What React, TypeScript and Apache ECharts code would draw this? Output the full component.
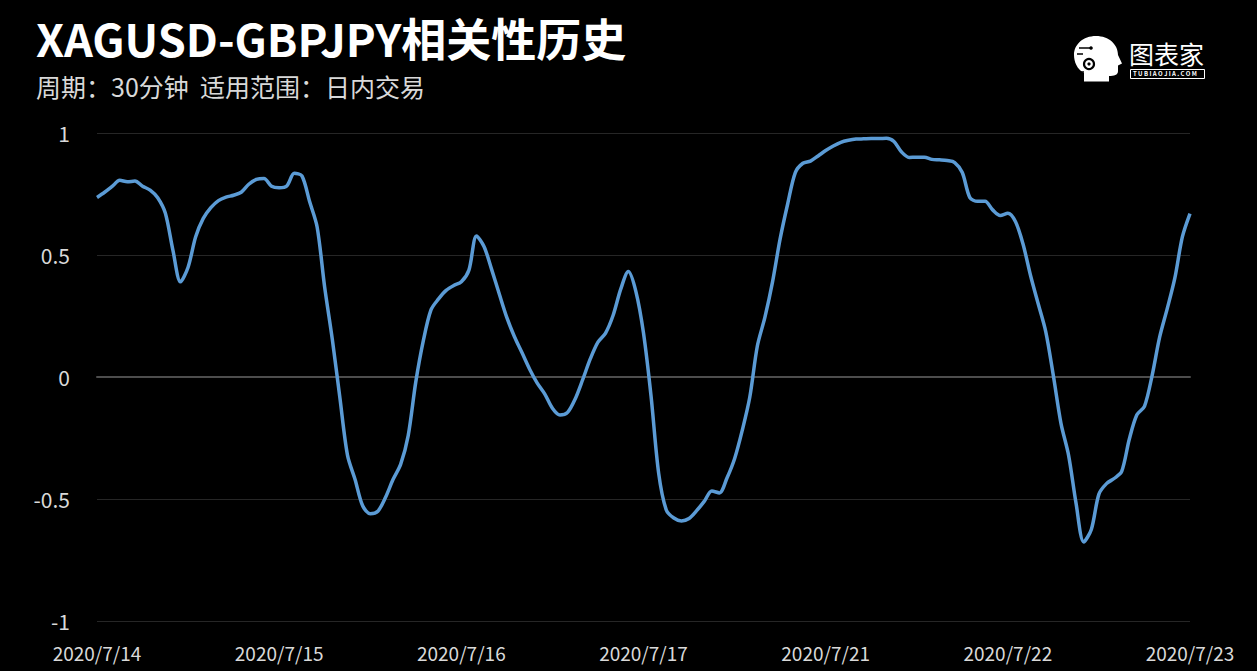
import React, { useEffect, useRef } from "react";
import * as echarts from "echarts";

const days = ["2020/7/14", "2020/7/15", "2020/7/16", "2020/7/17", "2020/7/21", "2020/7/22", "2020/7/23"];
const hours = Array.from({ length: 24 }, (_, h) => `${h}:00`);

const correlation = [
  0.736, 0.757, 0.781, 0.806, 0.8, 0.803, 0.782, 0.766, 0.735, 0.672, 0.52, 0.39,
  0.45, 0.575, 0.65, 0.694, 0.723, 0.737, 0.745, 0.757, 0.79, 0.81, 0.814, 0.782,
  0.776, 0.783, 0.835, 0.824, 0.72, 0.615, 0.367, 0.155, -0.085, -0.32, -0.42, -0.528,
  -0.56, -0.55, -0.494, -0.42, -0.358, -0.24, -0.02, 0.15, 0.275, 0.32, 0.355, 0.375,
  0.39, 0.438, 0.578, 0.534, 0.44, 0.34, 0.243, 0.165, 0.099, 0.032, -0.025, -0.07,
  -0.128, -0.156, -0.145, -0.09, -0.01, 0.075, 0.143, 0.18, 0.253, 0.36, 0.432, 0.35,
  0.18, -0.08, -0.395, -0.545, -0.578, -0.59, -0.58, -0.548, -0.51, -0.467, -0.475, -0.414,
  -0.335, -0.22, -0.083, 0.127, 0.245, 0.39, 0.566, 0.71, 0.838, 0.876, 0.885, 0.906,
  0.928, 0.947, 0.962, 0.97, 0.975, 0.976, 0.977, 0.977, 0.978, 0.965, 0.922, 0.9,
  0.901, 0.901, 0.892, 0.89, 0.887, 0.879, 0.838, 0.735, 0.72, 0.72, 0.685, 0.662,
  0.671, 0.637, 0.545, 0.415, 0.3, 0.185, 0.005, -0.19, -0.32, -0.52, -0.676, -0.625,
  -0.48, -0.437, -0.416, -0.387, -0.255, -0.155, -0.12, 0.005, 0.163, 0.28, 0.405, 0.575,
  0.67,
];

const titleText = "XAGUSD-GBPJPY相关性历史";
const subtitleText = "周期：30分钟  适用范围：日内交易";
const logoText = "图表家";
const logoSub = "T U B I A O J I A . C O M";

const headPath =
  "M22 0C35 0 44 9 44 20L48 29L44 31L44 37C44 41 40 42 35 42L35 48L10 48L10 39C3 35 0 27 0 20C0 9 9 0 22 0Z";
echarts.graphic.registerShape("logoHead", echarts.graphic.extendPath(headPath, {}) as any);

const FONT = "'Noto Sans CJK SC', 'Noto Sans', sans-serif";

export default function App() {
  const ref = useRef<HTMLDivElement>(null);
  useEffect(() => {
    if (!ref.current) return;
    const chart = echarts.init(ref.current, undefined, { renderer: "svg" });
    const categories: string[] = [];
    for (let d = 0; d < days.length - 1; d++) {
      for (const h of hours) categories.push(`${days[d]} ${h}`);
    }
    categories.push(`${days[days.length - 1]} ${hours[0]}`);

    chart.setOption({
      animation: false,
      backgroundColor: "#000000",
      textStyle: { fontFamily: FONT },
      grid: { left: 97, right: 67, top: 133, bottom: 50, containLabel: false },
      graphic: [
        {
          type: "text",
          left: 36,
          top: 15,
          style: { text: titleText, fill: "#ffffff", font: `bold 45px ${FONT}` },
        },
        {
          type: "text",
          left: 36,
          top: 73,
          style: { text: subtitleText, fill: "#d9d9d9", font: `25px ${FONT}` },
        },
        {
          type: "group",
          left: 1074,
          top: 36,
          children: [
            { type: "logoHead", x: 0, y: 0, scaleX: 1, scaleY: 0.95, style: { fill: "#ffffff" } },
            { type: "circle", shape: { cx: 15, cy: 28, r: 5 }, style: { fill: "none", stroke: "#000", lineWidth: 2.2 } },
            { type: "circle", shape: { cx: 15, cy: 28, r: 1.6 }, style: { fill: "#000" } },
            { type: "line", shape: { x1: 5, y1: 12, x2: 16, y2: 12 }, style: { stroke: "#000", lineWidth: 1.5 } },
            { type: "line", shape: { x1: 3, y1: 18, x2: 9, y2: 18 }, style: { stroke: "#000", lineWidth: 1.5 } },
            { type: "line", shape: { x1: 5, y1: 36, x2: 10, y2: 36 }, style: { stroke: "#000", lineWidth: 1.5 } },
            { type: "circle", shape: { cx: 17, cy: 12, r: 1.8 }, style: { fill: "#000" } },
          ],
        },
        {
          type: "text",
          left: 1129,
          top: 40,
          style: { text: logoText, fill: "#ffffff", font: `25px ${FONT}` },
        },
        {
          type: "rect",
          left: 1130,
          top: 69,
          shape: { width: 74, height: 9 },
          style: { fill: "#000000", stroke: "#ffffff", lineWidth: 1 },
        },
        {
          type: "text",
          left: 1133,
          top: 70,
          style: { text: logoSub, fill: "#ffffff", font: `bold 6px ${FONT}` },
        },
      ],
      xAxis: {
        type: "category",
        data: categories,
        boundaryGap: false,
        axisLine: { show: true, onZero: true, lineStyle: { color: "#4d4d4d", width: 2 } },
        axisTick: { show: false },
        splitLine: { show: false },
        axisLabel: {
          interval: 23,
          color: "#d9d9d9",
          fontSize: 19,
          margin: 22,
          fontFamily: FONT,
          formatter: (v: string) => v.split(" ")[0],
        },
      },
      yAxis: {
        type: "value",
        min: -1,
        max: 1,
        interval: 0.5,
        axisLine: { show: false },
        axisTick: { show: false },
        splitLine: { show: true, lineStyle: { color: "#262626", width: 1 } },
        axisLabel: { color: "#d9d9d9", fontSize: 21, margin: 27, fontFamily: FONT },
      },
      series: [
        {
          type: "line",
          data: correlation,
          showSymbol: false,
          smooth: 0.3,
          lineStyle: { color: "#5b9bd5", width: 3.5 },
          itemStyle: { color: "#5b9bd5" },
        },
      ],
    });
    return () => chart.dispose();
  }, []);
  return <div ref={ref} style={{ width: 1257, height: 671, position: "absolute", left: 0, top: 0 }} />;
}
